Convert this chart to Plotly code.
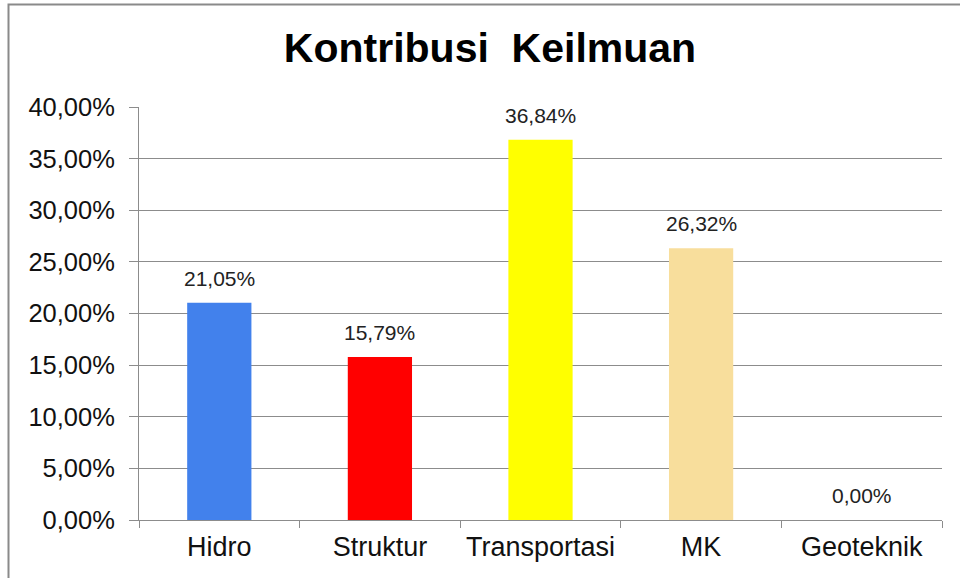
import plotly.graph_objects as go

categories = ["Hidro", "Struktur", "Transportasi", "MK", "Geoteknik"]
values = [21.05, 15.79, 36.84, 26.32, 0.00]
colors = ["#4281EC", "#FF0000", "#FFFF00", "#F8DE9C", "#9BBB59"]
y_ticks = [0, 5, 10, 15, 20, 25, 30, 35, 40]

def fmt(v):
    return f"{v:.2f}%".replace(".", ",")

fig = go.Figure()
fig.add_trace(go.Bar(
    x=categories, y=values, marker=dict(color=colors, line=dict(width=0)),
    width=0.4, showlegend=False, hoverinfo="skip",
))

for c, v in zip(categories, values):
    fig.add_annotation(x=c, y=v, text=fmt(v), showarrow=False, yanchor="bottom",
                       yshift=11, font=dict(family="Liberation Sans, Arial", size=21, color="#222222"))

W, H = 960, 578
L, R, T, B = 139, 960 - 942, 107, 578 - 520
pw, ph = W - L - R, H - T - B

def px_x(p):
    return (p - L) / pw

def px_y(p):
    return (H - B - p) / ph

fig.add_shape(type="rect", xref="paper", yref="paper",
              x0=px_x(8.5), x1=px_x(980), y0=px_y(4.5), y1=px_y(600),
              line=dict(color="#8a8a8a", width=2), fillcolor="rgba(0,0,0,0)", layer="below")

fig.update_layout(
    width=W, height=H,
    margin=dict(l=L, r=R, t=T, b=B, autoexpand=False),
    paper_bgcolor="white", plot_bgcolor="white",
    title=dict(text="Kontribusi  Keilmuan", x=490 / W, xanchor="center",
               y=1 - 48 / H, yanchor="middle",
               font=dict(family="Liberation Sans, Arial", size=41, color="black", weight="bold")),
    font=dict(family="Liberation Sans, Arial", color="#111111"),
    bargap=0.6,
)
fig.update_yaxes(range=[0, 40], tickvals=y_ticks, ticktext=[fmt(v) for v in y_ticks],
                 showgrid=True, gridcolor="#8c8c8c", gridwidth=1,
                 showline=True, linecolor="#8c8c8c", linewidth=1,
                 ticks="outside", ticklen=9, tickcolor="#8c8c8c", ticklabelstandoff=9,
                 tickfont=dict(size=25.5, color="#111111"), zeroline=False, fixedrange=True)
fig.update_xaxes(showline=True, linecolor="#8c8c8c", linewidth=1,
                 ticks="outside", ticklen=7, tickcolor="#8c8c8c", tickson="boundaries",
                 ticklabelstandoff=3,
                 tickfont=dict(size=27, color="#111111"), showgrid=False, fixedrange=True)

fig.write_html("out.html", config={"displayModeBar": False},
               post_script="document.body.style.margin='0';")
